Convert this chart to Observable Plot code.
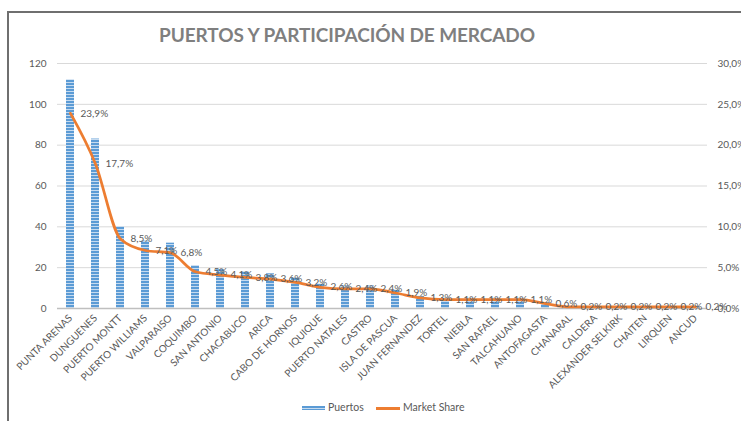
<!DOCTYPE html>
<html>
<head>
<meta charset="utf-8">
<script src="https://cdn.jsdelivr.net/npm/d3@7"></script>
<script src="https://cdn.jsdelivr.net/npm/@observablehq/plot@0.6"></script>
<style>
  html, body { margin: 0; padding: 0; background: #fff; }
  body { width: 741px; height: 421px; position: relative; overflow: hidden; font-family: Lato, sans-serif; }
  #frame { position: absolute; left: 7px; top: 11px; width: 760px; height: 430px; border-top: 2px solid #6f6f6f; border-left: 2px solid #6f6f6f; box-sizing: border-box; }
  #title { position: absolute; left: 0; top: 23px; width: 694px; text-align: center; font-weight: bold; font-size: 19px; color: #7f7f7f; letter-spacing: -0.1px; }
  #chart { position: absolute; left: 0; top: 50px; }
  .leg { position: absolute; font-size: 10.5px; color: #595959; top: 401px; }
  .sw { position: absolute; }
</style>
</head>
<body>
<div id="frame"></div>
<div id="title">PUERTOS Y PARTICIPACIÓN DE MERCADO</div>
<div id="chart"></div>
<div class="sw" id="swBlue" style="left:302px; top:406px; width:23px; height:4px;"></div>
<div class="leg" style="left:328px;">Puertos</div>
<div class="sw" style="left:376px; top:406.5px; width:24px; height:3px; background:#ED7D31;"></div>
<div class="leg" style="left:403px;">Market Share</div>
<script>
const ports = ["PUNTA ARENAS","DUNGUENES","PUERTO MONTT","PUERTO WILLIAMS","VALPARAISO","COQUIMBO","SAN ANTONIO","CHACABUCO","ARICA","CABO DE HORNOS","IQUIQUE","PUERTO NATALES","CASTRO","ISLA DE PASCUA","JUAN FERNANDEZ","TORTEL","NIEBLA","SAN RAFAEL","TALCAHUANO","ANTOFAGASTA","CHANARAL","CALDERA","ALEXANDER SELKIRK","CHAITEN","LIRQUEN","ANCUD"];
const counts = [112,83,40,33,32,21,19,18,17,15,12,11,11,9,6,5,5,5,5,3,1,1,1,1,1,1];
const shares = [23.9,17.7,8.5,7.1,6.8,4.5,4.1,3.8,3.6,3.2,2.6,2.4,2.4,1.9,1.3,1.1,1.1,1.1,1.1,0.6,0.2,0.2,0.2,0.2,0.2,0.2];
const leftTicks = [0,20,40,60,80,100,120];
const rightTicks = [0,5,10,15,20,25,30];

const ratio = leftTicks[leftTicks.length-1] / rightTicks[rightTicks.length-1];
const data = ports.map((p,i) => ({port: p, count: counts[i], share: shares[i]}));
const fmt = v => d3.format(".1f")(v).replace(".", ",") + "%";

const chart = Plot.plot({
  width: 741,
  height: 343,
  marginTop: 13,
  marginBottom: 85,
  marginLeft: 57,
  marginRight: 34,
  style: {fontFamily: "Lato, sans-serif", fontSize: "10px", color: "#595959", background: "transparent"},
  x: {domain: ports, paddingInner: 0.68, paddingOuter: 0.34, axis: null},
  y: {domain: [0, 120], axis: null},
  marks: [
    Plot.gridY(leftTicks, {stroke: "#d9d9d9", strokeOpacity: 1}),
    Plot.barY(data, {x: "port", y: "count", fill: "url(#stripes)"}),
    Plot.ruleY([0], {stroke: "#bfbfbf", strokeWidth: 1.5}),
    Plot.line(data, {x: "port", y: d => d.share * ratio, stroke: "#ED7D31", strokeWidth: 2.75, curve: "monotone-x"}),
    Plot.text(data, {x: "port", y: d => d.share * ratio, text: d => fmt(d.share), dx: 10, textAnchor: "start", fill: "#595959", fontSize: 10}),
    Plot.axisY(leftTicks, {anchor: "left", tickSize: 0, tickPadding: 11, label: null, fontSize: 10}),
    Plot.axisY(rightTicks.map(t => t * ratio), {anchor: "right", tickSize: 0, tickPadding: 10, label: null, tickFormat: d => fmt(d / ratio), fontSize: 10}),
    Plot.axisX({tickRotate: -45, tickSize: 0, tickPadding: 8, label: null, fontSize: 10})
  ]
});

const svg = d3.select(chart);
const defs = svg.insert("defs", ":first-child");
const pat = defs.append("pattern").attr("id", "stripes").attr("patternUnits", "userSpaceOnUse")
  .attr("width", 8).attr("height", 3);
pat.append("rect").attr("width", 8).attr("height", 3).attr("fill", "#c6dbf0");
pat.append("rect").attr("width", 8).attr("height", 2).attr("fill", "#5B9BD5");
document.getElementById("chart").appendChild(chart);

document.getElementById("swBlue").style.background =
  "repeating-linear-gradient(to bottom, #5B9BD5 0px, #5B9BD5 2px, #c6dbf0 2px, #c6dbf0 3px)";
</script>
</body>
</html>
